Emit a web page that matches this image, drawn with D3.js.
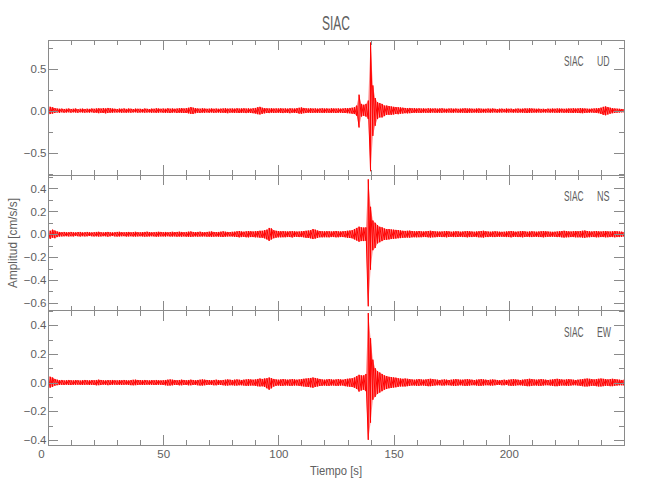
<!DOCTYPE html>
<html><head><meta charset="utf-8">
<script src="https://cdn.jsdelivr.net/npm/d3@7"></script>
<style>body{margin:0;background:#fff}svg{display:block}</style>
</head><body><svg id="c" width="650" height="500"></svg>
<script>
// ---------------- data ----------------
const chartTitle = "SIAC";
const station = "SIAC";
const components = ["UD", "NS", "EW"];
const yAxisTitle = "Amplitud [cm/s/s]";
const xAxisTitle = "Tiempo [s]";
const sampleInterval = 1; // seconds per envelope window
const xDomain = [0, 250];
const xTickLabels = [0, 50, 100, 150, 200];
const yDomains = [[-0.765, 0.84], [-0.667, 0.518], [-0.436, 0.503]];
const yMajorStep = [0.5, 0.2, 0.2];
const yMinorStep = [0.25, 0.1, 0.1];

// per-second max / min of each acceleration trace (cm/s/s), t = 0..250 s
const udMax = [
.05,.045,.04,.03,.025,.022,.024,.02,.022,.025,
.02,.022,.025,.018,.022,.024,.02,.023,.021,.025,
.022,.026,.028,.025,.03,.026,.032,.028,.025,.022,
.02,.024,.022,.026,.021,.025,.023,.02,.024,.022,
.022,.02,.025,.022,.02,.024,.022,.028,.025,.022,
.025,.022,.028,.024,.026,.022,.025,.028,.03,.026,
.03,.034,.042,.036,.03,.026,.024,.028,.025,.022,
.024,.026,.022,.025,.022,.024,.026,.028,.024,.025,
.026,.024,.028,.025,.026,.028,.025,.027,.024,.028,
.032,.04,.045,.035,.03,.028,.026,.028,.025,.027,
.026,.028,.025,.027,.024,.028,.026,.025,.03,.034,
.038,.032,.028,.026,.028,.025,.027,.024,.026,.028,
.025,.027,.024,.028,.026,.025,.027,.024,.026,.03,
.028,.032,.035,.04,.06,.19,.08,.07,.08,.12,
.81,.3,.15,.1,.09,.08,.06,.06,.055,.05,
.045,.042,.04,.038,.035,.032,.03,.032,.028,.03,
.026,.028,.025,.027,.024,.028,.026,.025,.027,.024,
.026,.028,.024,.022,.025,.026,.023,.025,.022,.024,
.026,.028,.025,.026,.024,.022,.025,.027,.024,.022,
.022,.025,.023,.026,.022,.02,.023,.024,.021,.025,
.022,.024,.02,.023,.025,.022,.024,.027,.025,.028,
.026,.024,.022,.024,.021,.022,.02,.024,.022,.025,
.023,.026,.025,.024,.022,.024,.026,.025,.028,.025,
.027,.03,.028,.026,.024,.022,.024,.026,.028,.03,
.035,.045,.05,.042,.035,.03,.026,.024,.022,.02,
.02
];
const udMin = [
-.05,-.04,-.035,-.028,-.022,-.025,-.02,-.024,-.022,-.02,
-.024,-.02,-.022,-.025,-.02,-.022,-.024,-.021,-.023,-.02,
-.025,-.024,-.03,-.026,-.028,-.032,-.027,-.025,-.024,-.022,
-.022,-.021,-.025,-.023,-.025,-.022,-.024,-.021,-.02,-.024,
-.023,-.021,-.024,-.022,-.021,-.025,-.023,-.026,-.024,-.021,
-.024,-.026,-.025,-.028,-.024,-.022,-.027,-.025,-.028,-.027,
-.028,-.032,-.038,-.04,-.03,-.025,-.027,-.024,-.026,-.022,
-.025,-.022,-.026,-.024,-.023,-.026,-.025,-.027,-.03,-.024,
-.024,-.027,-.025,-.028,-.027,-.025,-.029,-.026,-.028,-.03,
-.034,-.042,-.045,-.038,-.032,-.027,-.029,-.025,-.027,-.026,
-.025,-.027,-.029,-.025,-.027,-.03,-.025,-.027,-.028,-.035,
-.036,-.03,-.027,-.025,-.028,-.026,-.025,-.027,-.025,-.026,
-.028,-.025,-.026,-.027,-.025,-.028,-.026,-.025,-.027,-.028,
-.03,-.032,-.036,-.04,-.06,-.2,-.07,-.06,-.07,-.1,
-.72,-.3,-.18,-.1,-.08,-.08,-.065,-.05,-.05,-.05,
-.045,-.04,-.042,-.036,-.034,-.03,-.032,-.03,-.028,-.026,
-.028,-.025,-.027,-.024,-.026,-.025,-.027,-.023,-.025,-.026,
-.024,-.026,-.022,-.025,-.023,-.024,-.026,-.022,-.024,-.025,
-.025,-.026,-.028,-.024,-.025,-.023,-.024,-.026,-.025,-.023,
-.024,-.022,-.025,-.023,-.021,-.024,-.022,-.023,-.02,-.024,
-.023,-.021,-.024,-.022,-.025,-.023,-.025,-.026,-.028,-.026,
-.025,-.023,-.024,-.022,-.024,-.021,-.023,-.022,-.024,-.023,
-.025,-.024,-.026,-.023,-.025,-.024,-.027,-.025,-.028,-.026,
-.028,-.029,-.03,-.027,-.025,-.024,-.023,-.025,-.027,-.03,
-.038,-.05,-.055,-.045,-.036,-.03,-.027,-.024,-.022,-.02,
-.02
];
const nsMax = [
.035,.03,.04,.032,.024,.02,.018,.02,.017,.018,
.02,.017,.016,.019,.02,.016,.018,.02,.017,.016,
.018,.02,.021,.018,.016,.019,.02,.017,.016,.018,
.02,.021,.018,.017,.019,.02,.017,.019,.021,.018,
.017,.019,.02,.022,.019,.017,.018,.02,.021,.02,
.018,.02,.017,.019,.021,.019,.02,.022,.02,.018,
.02,.022,.024,.02,.019,.02,.022,.019,.018,.02,
.022,.024,.02,.019,.02,.022,.025,.022,.02,.019,
.021,.022,.025,.028,.024,.022,.025,.028,.026,.024,
.026,.028,.03,.03,.035,.04,.055,.05,.035,.03,
.028,.026,.027,.025,.024,.026,.027,.025,.023,.024,
.026,.028,.03,.032,.035,.045,.04,.032,.028,.026,
.025,.027,.026,.024,.026,.028,.025,.024,.026,.028,
.03,.032,.035,.045,.055,.066,.06,.058,.06,.48,
.24,.12,.1,.08,.065,.06,.05,.045,.045,.042,
.04,.038,.036,.033,.03,.029,.03,.031,.028,.026,
.026,.028,.025,.024,.026,.028,.03,.028,.025,.024,
.023,.024,.026,.028,.025,.022,.024,.026,.025,.022,
.024,.026,.028,.026,.024,.022,.024,.026,.028,.03,
.026,.024,.022,.024,.026,.024,.022,.021,.022,.024,
.026,.028,.025,.022,.024,.026,.028,.025,.022,.024,
.026,.024,.022,.024,.026,.028,.026,.024,.022,.021,
.022,.024,.026,.028,.03,.028,.025,.024,.026,.028,
.026,.028,.03,.032,.028,.025,.024,.026,.028,.025,
.024,.026,.028,.025,.024,.026,.028,.026,.024,.022,
.02
];
const nsMin = [
-.035,-.04,-.03,-.035,-.025,-.02,-.019,-.018,-.017,-.019,
-.018,-.019,-.016,-.018,-.02,-.017,-.019,-.018,-.016,-.018,
-.019,-.018,-.02,-.019,-.017,-.018,-.021,-.018,-.016,-.019,
-.02,-.019,-.018,-.017,-.02,-.019,-.018,-.02,-.02,-.019,
-.018,-.019,-.021,-.02,-.019,-.018,-.019,-.021,-.02,-.019,
-.019,-.02,-.018,-.02,-.02,-.019,-.021,-.02,-.021,-.019,
-.021,-.022,-.023,-.021,-.019,-.021,-.02,-.02,-.019,-.021,
-.021,-.023,-.021,-.02,-.021,-.022,-.024,-.021,-.02,-.019,
-.02,-.023,-.024,-.027,-.025,-.023,-.026,-.027,-.025,-.025,
-.027,-.027,-.03,-.031,-.036,-.045,-.058,-.045,-.035,-.03,
-.027,-.027,-.026,-.026,-.025,-.025,-.028,-.024,-.023,-.025,
-.025,-.027,-.031,-.033,-.036,-.042,-.038,-.033,-.027,-.027,
-.026,-.026,-.027,-.025,-.025,-.027,-.026,-.025,-.025,-.027,
-.031,-.033,-.036,-.045,-.055,-.065,-.06,-.06,-.058,-.63,
-.31,-.14,-.12,-.08,-.07,-.06,-.05,-.048,-.045,-.042,
-.04,-.038,-.035,-.034,-.031,-.03,-.029,-.03,-.027,-.026,
-.027,-.026,-.026,-.025,-.025,-.027,-.029,-.027,-.026,-.025,
-.024,-.025,-.025,-.027,-.024,-.023,-.025,-.025,-.024,-.023,
-.025,-.025,-.027,-.025,-.025,-.023,-.025,-.027,-.027,-.029,
-.025,-.025,-.023,-.025,-.025,-.023,-.023,-.022,-.023,-.025,
-.025,-.027,-.024,-.023,-.025,-.025,-.027,-.024,-.023,-.025,
-.025,-.023,-.023,-.025,-.025,-.027,-.025,-.023,-.023,-.022,
-.023,-.025,-.025,-.027,-.029,-.027,-.026,-.025,-.025,-.027,
-.027,-.027,-.029,-.031,-.027,-.026,-.025,-.025,-.027,-.026,
-.025,-.025,-.027,-.026,-.025,-.025,-.027,-.025,-.025,-.023,
-.02
];
const ewMax = [
.045,.04,.035,.025,.02,.016,.018,.015,.016,.018,
.016,.015,.017,.016,.014,.016,.018,.016,.015,.017,
.016,.018,.02,.018,.016,.015,.017,.016,.018,.016,
.015,.017,.016,.018,.016,.015,.017,.019,.02,.018,
.017,.016,.018,.016,.015,.017,.016,.018,.016,.015,
.016,.018,.02,.022,.02,.018,.016,.018,.02,.018,
.016,.018,.02,.018,.016,.018,.02,.022,.02,.018,
.017,.016,.018,.02,.018,.016,.018,.02,.022,.02,
.018,.02,.022,.02,.018,.02,.022,.024,.022,.02,
.022,.025,.028,.025,.028,.03,.035,.03,.025,.022,
.02,.022,.024,.022,.02,.022,.024,.022,.02,.022,
.024,.026,.028,.03,.032,.035,.032,.028,.025,.022,
.02,.022,.024,.022,.02,.022,.024,.022,.02,.024,
.026,.028,.03,.035,.045,.054,.05,.05,.06,.485,
.31,.16,.1,.08,.07,.06,.05,.045,.04,.038,
.036,.034,.03,.028,.026,.028,.026,.024,.022,.02,
.022,.024,.022,.02,.022,.024,.026,.024,.022,.02,
.018,.02,.022,.02,.018,.02,.022,.024,.022,.02,
.02,.022,.024,.022,.02,.018,.02,.022,.024,.022,
.02,.018,.02,.022,.02,.018,.016,.018,.02,.018,
.02,.022,.024,.022,.02,.018,.02,.022,.024,.026,
.024,.022,.02,.022,.024,.022,.02,.018,.02,.022,
.024,.026,.024,.022,.02,.022,.024,.022,.02,.018,
.02,.022,.024,.026,.028,.026,.024,.022,.024,.026,
.028,.026,.024,.022,.024,.026,.024,.022,.02,.018,
.02
];
const ewMin = [
-.045,-.035,-.03,-.022,-.018,-.017,-.016,-.017,-.015,-.017,
-.017,-.016,-.016,-.015,-.016,-.017,-.016,-.015,-.017,-.016,
-.017,-.019,-.018,-.017,-.015,-.016,-.018,-.017,-.016,-.015,
-.016,-.016,-.017,-.016,-.015,-.017,-.018,-.019,-.018,-.017,
-.016,-.017,-.017,-.015,-.016,-.016,-.017,-.017,-.016,-.016,
-.017,-.019,-.021,-.021,-.019,-.017,-.017,-.019,-.019,-.017,
-.017,-.019,-.019,-.017,-.017,-.019,-.021,-.021,-.019,-.017,
-.016,-.017,-.019,-.019,-.017,-.017,-.019,-.021,-.021,-.019,
-.019,-.021,-.021,-.019,-.019,-.021,-.023,-.023,-.021,-.021,
-.023,-.026,-.027,-.026,-.03,-.04,-.05,-.04,-.028,-.023,
-.021,-.023,-.023,-.021,-.021,-.023,-.023,-.021,-.021,-.023,
-.025,-.027,-.029,-.031,-.033,-.036,-.031,-.027,-.024,-.023,
-.021,-.023,-.023,-.021,-.021,-.023,-.023,-.021,-.021,-.025,
-.027,-.029,-.031,-.036,-.045,-.063,-.055,-.05,-.06,-.40,
-.28,-.12,-.1,-.08,-.07,-.06,-.05,-.045,-.04,-.038,
-.035,-.033,-.03,-.027,-.027,-.027,-.025,-.023,-.021,-.021,
-.023,-.023,-.021,-.021,-.023,-.025,-.025,-.023,-.021,-.019,
-.019,-.021,-.021,-.019,-.019,-.021,-.023,-.023,-.021,-.019,
-.021,-.023,-.023,-.021,-.019,-.019,-.021,-.023,-.023,-.021,
-.019,-.019,-.021,-.021,-.019,-.017,-.017,-.019,-.019,-.017,
-.021,-.023,-.023,-.021,-.019,-.019,-.021,-.023,-.025,-.025,
-.023,-.021,-.021,-.023,-.023,-.021,-.019,-.019,-.021,-.023,
-.025,-.025,-.023,-.021,-.021,-.023,-.023,-.021,-.019,-.019,
-.021,-.023,-.025,-.027,-.027,-.025,-.023,-.023,-.025,-.027,
-.027,-.025,-.023,-.023,-.025,-.025,-.023,-.021,-.019,-.019,
-.02
];
const traceMax = [udMax, nsMax, ewMax];
const traceMin = [udMin, nsMin, ewMin];

// ---------------- layout / style ----------------
const left = 48, right = 624;
const panelTops = [40, 175, 310.5];
const panelBottoms = [175, 310.5, 445];
const axisColor = "#8a8a8a";
const textColor = "#606060";
const lineColor = "#ff0000";
const font = "'Liberation Sans', Arial, sans-serif";

const svg = d3.select("#c");
const x = d3.scaleLinear().domain(xDomain).range([left, right]);

function stepTicks(dom, step) {
  const a = Math.ceil(dom[0] / step - 1e-9), b = Math.floor(dom[1] / step + 1e-9);
  return d3.range(a, b + 1).map(k => +(k * step).toFixed(6));
}
const yFmt = d => (d < 0 ? "\u2212" : "") + Math.abs(d).toFixed(1);

const xMinor = stepTicks(xDomain, 10);
const xMajor = stepTicks(xDomain, 50);

traceMax.forEach((maxVals, p) => {
  const minVals = traceMin[p];
  const top = panelTops[p], bot = panelBottoms[p];
  const y = d3.scaleLinear().domain(yDomains[p]).range([bot, top]);
  const g = svg.append("g");

  const cid = "clip" + p;
  svg.append("clipPath").attr("id", cid).append("rect")
    .attr("x", left).attr("y", top).attr("width", right - left).attr("height", bot - top);

  // light envelope fill between per-second min and max
  const area = d3.area().x((d, i) => x(i * sampleInterval)).y0((d, i) => y(minVals[i])).y1(d => y(d));
  g.append("path").datum(maxVals).attr("clip-path", `url(#${cid})`)
    .attr("d", area).attr("fill", lineColor).attr("fill-opacity", 0.45).attr("stroke", "none");

  // waveform: each window drawn from its min to its max, joined in time order
  const pts = [];
  maxVals.forEach((mx, i) => {
    pts.push([i * sampleInterval, minVals[i]]);
    pts.push([i * sampleInterval, mx]);
  });
  const line = d3.line().x(d => x(d[0])).y(d => y(d[1]));
  g.append("path").datum(pts).attr("clip-path", `url(#${cid})`)
    .attr("d", line).attr("fill", "none").attr("stroke", lineColor)
    .attr("stroke-width", 1).attr("stroke-linejoin", "bevel");

  const ymin = stepTicks(yDomains[p], yMinorStep[p]);
  const ymaj = stepTicks(yDomains[p], yMajorStep[p]);

  const axes = [
    [d3.axisLeft(y).tickValues(ymin).tickSize(-5).tickFormat(""), `translate(${left},0)`],
    [d3.axisLeft(y).tickValues(ymaj).tickSize(-10).tickPadding(1.5).tickFormat(yFmt), `translate(${left},0)`],
    [d3.axisRight(y).tickValues(ymin).tickSize(-5).tickFormat(""), `translate(${right},0)`],
    [d3.axisRight(y).tickValues(ymaj).tickSize(-10).tickFormat(""), `translate(${right},0)`],
    [d3.axisTop(x).tickValues(xMinor).tickSize(-5).tickFormat(""), `translate(0,${top})`],
    [d3.axisTop(x).tickValues(xMajor).tickSize(-10).tickFormat(""), `translate(0,${top})`],
    [d3.axisBottom(x).tickValues(xMinor).tickSize(-5).tickFormat(""), `translate(0,${bot})`],
    [d3.axisBottom(x).tickValues(xMajor).tickSize(-10).tickFormat(""), `translate(0,${bot})`]
  ];
  axes.forEach(([ax, tr]) => {
    const a = g.append("g").attr("transform", tr).call(ax);
    a.select(".domain").remove();
    a.selectAll(".tick line").attr("stroke", axisColor).attr("shape-rendering", "crispEdges");
    a.selectAll("text").attr("fill", textColor).style("font-family", font).style("font-size", "11.5px");
  });

  g.append("rect").attr("x", left).attr("y", top).attr("width", right - left).attr("height", bot - top)
    .attr("fill", "none").attr("stroke", axisColor).attr("shape-rendering", "crispEdges");

  g.append("text").attr("x", 564).attr("y", top + 26).text(station)
    .attr("textLength", 19.5).attr("lengthAdjust", "spacingAndGlyphs")
    .attr("fill", textColor).style("font-family", font).style("font-size", "14px");
  g.append("text").attr("x", 597).attr("y", top + 26).text(components[p])
    .attr("textLength", components[p] === "EW" ? 14 : 12.6).attr("lengthAdjust", "spacingAndGlyphs")
    .attr("fill", textColor).style("font-family", font).style("font-size", "14px");

  if (p === traceMax.length - 1) {
    const xa = svg.append("g").attr("transform", `translate(0,${bot})`)
      .call(d3.axisBottom(x).tickValues(xTickLabels).tickSize(0).tickPadding(5).tickFormat(d3.format("d")));
    xa.select(".domain").remove();
    xa.selectAll("text").attr("fill", textColor).style("font-family", font).style("font-size", "11.5px")
      .attr("dx", d => d === 0 ? -7 : 0);
  }
});

svg.append("text").attr("x", (left + right) / 2).attr("y", 30).attr("text-anchor", "middle")
  .text(chartTitle).attr("textLength", 28).attr("lengthAdjust", "spacingAndGlyphs")
  .attr("fill", textColor).style("font-family", font).style("font-size", "21px");
svg.append("text").attr("x", (left + right) / 2).attr("y", 475).attr("text-anchor", "middle")
  .text(xAxisTitle).attr("textLength", 52).attr("lengthAdjust", "spacingAndGlyphs")
  .attr("fill", textColor).style("font-family", font).style("font-size", "13px");
svg.append("text").attr("transform", "translate(17,243) rotate(-90)").attr("text-anchor", "middle")
  .text(yAxisTitle).attr("textLength", 90).attr("lengthAdjust", "spacingAndGlyphs")
  .attr("fill", textColor).style("font-family", font).style("font-size", "13px");
</script>
</body></html>
